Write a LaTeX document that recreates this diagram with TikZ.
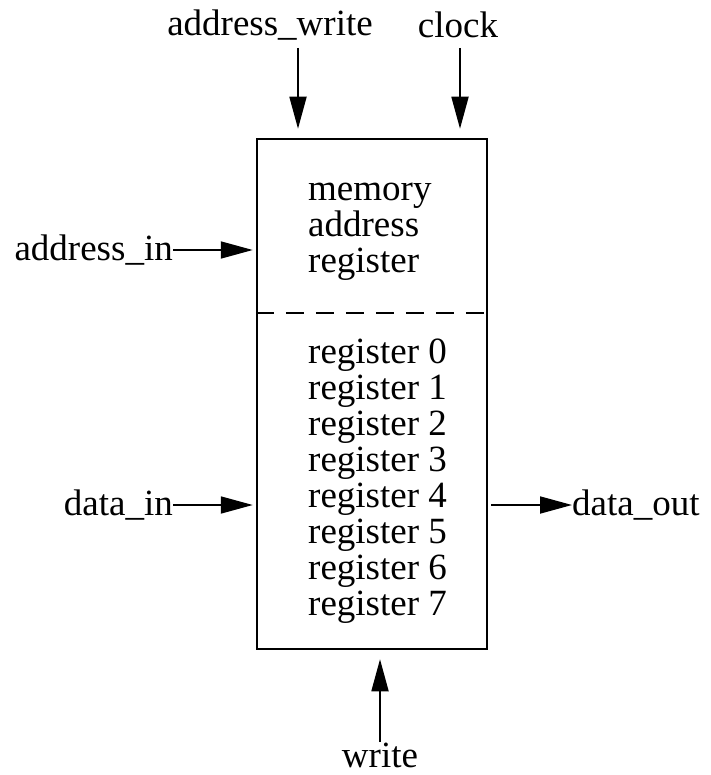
\documentclass[tikz,border=0pt]{standalone}
\usepackage{fontspec}
\setmainfont{Liberation Serif}
\usetikzlibrary{arrows.meta}
\begin{document}
\begin{tikzpicture}[x=1pt,y=-1pt,
  lbl/.style={inner sep=0pt,font=\fontsize{37}{36}\selectfont},
  blk/.style={inner sep=0pt,align=left,font=\fontsize{37}{36}\selectfont},
  arr/.style={line width=1.8pt,-{Triangle[length=32pt,width=17pt]}},
  boxst/.style={draw,line width=2.5pt,minimum width=230pt,minimum height=510pt,inner sep=0pt}]
\useasboundingbox (0,0) rectangle (710,775);
\node[boxst] (box) at (372,394) {};
\draw[line width=2pt,dash pattern=on 18pt off 12pt] (box.west |- 0,313) coordinate (dl) -- (box.east |- 0,313) coordinate (dr);
\node[blk,anchor=west] (mar) at (308,232) {memory\\address\\register};
\node[blk,anchor=west] (regs) at (308,481) {register 0\\register 1\\register 2\\register 3\\register 4\\register 5\\register 6\\register 7};
% top labels
\node[lbl] (aw) at (270,25) {address\_write};
\node[lbl] (clk) at (458,25) {clock};
\coordinate (awt) at (298,48);
\coordinate (clt) at (460,48);
\draw[arr,shorten >=9pt] (awt) -- (awt |- box.north);
\draw[arr,shorten >=9pt] (clt) -- (clt |- box.north);
% left labels
\node[lbl,anchor=east] (ain) at (173,250) {address\_in};
\node[lbl,anchor=east] (din) at (173,505) {data\_in};
\draw[arr,shorten >=3pt] (ain.east) -- (ain.east -| box.west);
\draw[arr,shorten >=3pt] (din.east) -- (din.east -| box.west);
% right
\node[lbl,anchor=west] (dout) at (572,505) {data\_out};
\draw[arr,shorten <=3pt] (dout.west -| box.east) -- (dout.west);
% bottom
\node[lbl] (wr) at (380,755) {write};
\coordinate (wrt) at (380,742);
\draw[arr,shorten >=9pt] (wrt) -- (wrt |- box.south);
\end{tikzpicture}
\end{document}
